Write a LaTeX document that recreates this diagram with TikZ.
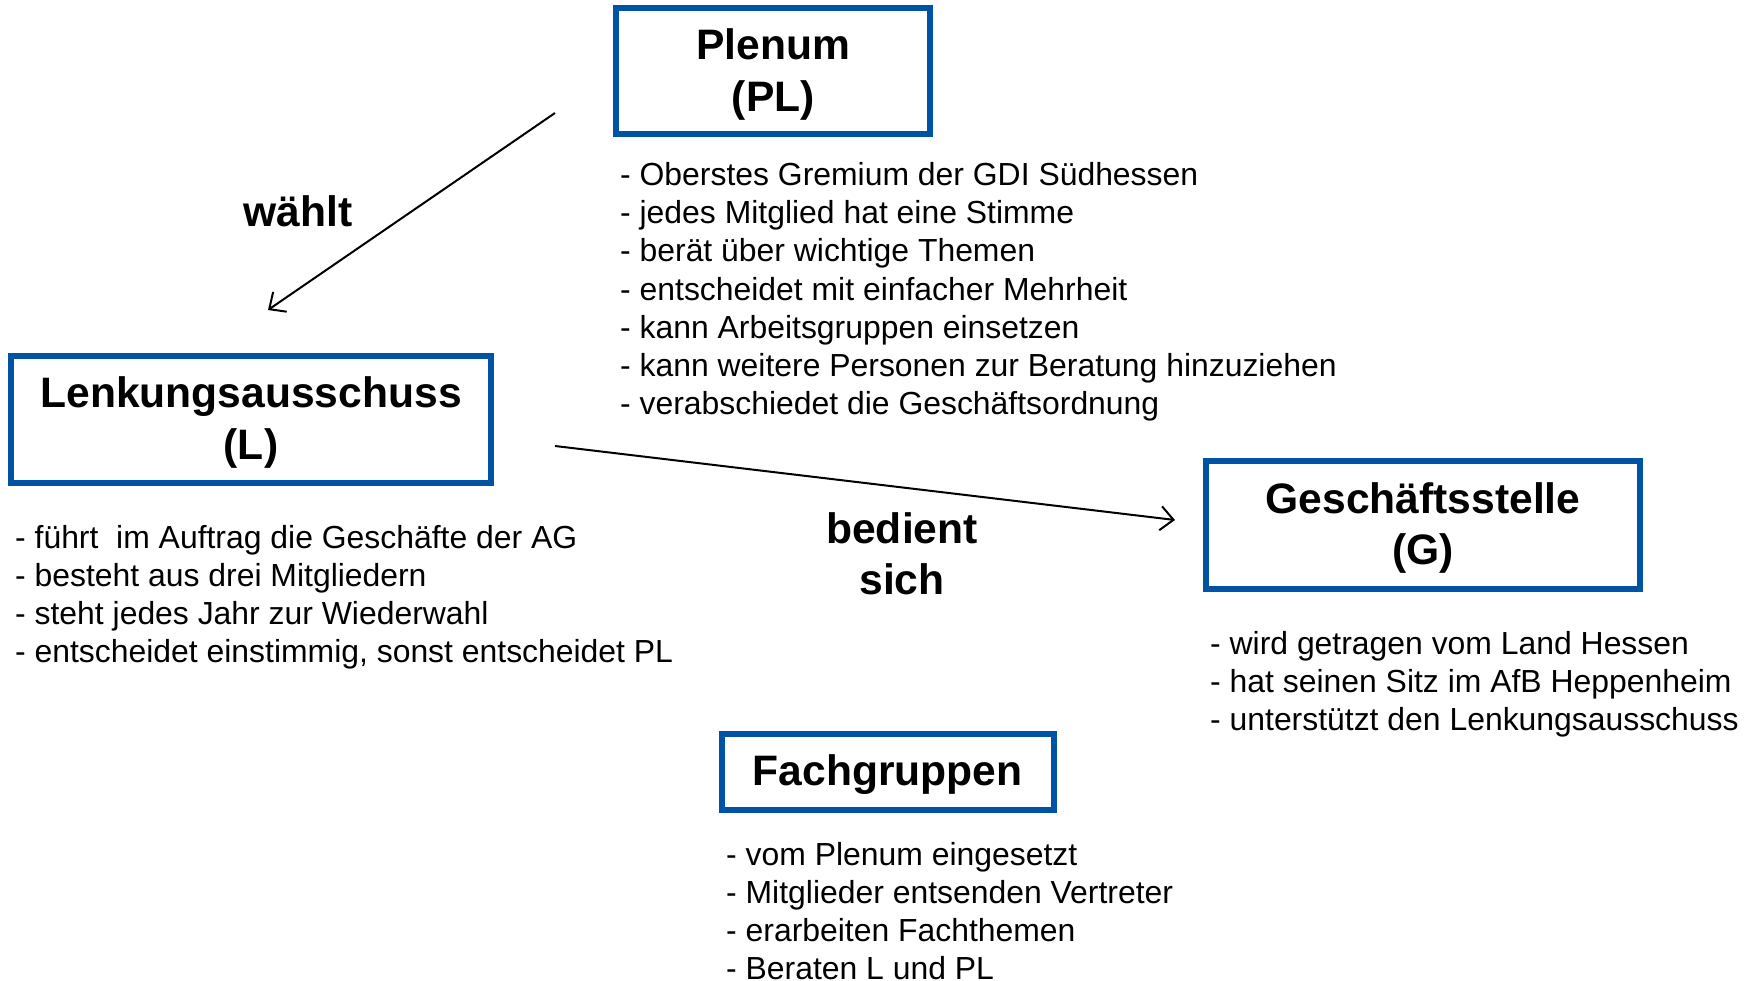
\documentclass[tikz,border=0pt]{standalone}
\usepackage{fontspec}
\setmainfont{Liberation Sans}
\usetikzlibrary{arrows.meta}
\definecolor{boxblue}{RGB}{0,82,164}
\newcommand\topstrut{\rule{0pt}{37pt}}
\begin{document}
\begin{tikzpicture}[x=1pt,y=-1pt,
  box/.style={draw=boxblue, line width=6pt, inner sep=0pt, align=center, font=\fontsize{42.6}{51.5}\selectfont\bfseries},
  item/.style={anchor=base west, inner sep=0pt, font=\fontsize{31.9}{38}\selectfont},
  lbl/.style={inner sep=0pt, align=center, font=\fontsize{42.6}{51.5}\selectfont\bfseries},
  arr/.style={line width=2pt, -{Straight Barb[length=13pt,width=24pt,line width=2pt]}}]
\useasboundingbox (0,0) rectangle (1754,981);

% boxes
\node[box, minimum width=314pt, minimum height=126pt] (pl) at (773.3,71.2) {\topstrut Plenum\\(PL)};
\node[box, minimum width=480pt, minimum height=127pt] (lk) at (251,419.5) {\topstrut Lenkungsausschuss\\(L)};
\node[box, minimum width=434pt, minimum height=128pt] (gs) at (1423,525) {\topstrut Geschäftsstelle\\(G)};
\node[box, minimum width=332pt, minimum height=76pt] (fg) at (887.5,772) {\topstrut Fachgruppen};

% lists
\foreach \t [count=\i from 0] in {%
  {- Oberstes Gremium der GDI Südhessen},
  {- jedes Mitglied hat eine Stimme},
  {- berät über wichtige Themen},
  {- entscheidet mit einfacher Mehrheit},
  {- kann Arbeitsgruppen einsetzen},
  {- kann weitere Personen zur Beratung hinzuziehen},
  {- verabschiedet die Geschäftsordnung}}
  \node[item] (pli\i) at (620,185.5+38.2*\i) {\t};

\foreach \t [count=\i from 0] in {%
  {- führt\ \ im Auftrag die Geschäfte der AG},
  {- besteht aus drei Mitgliedern},
  {- steht jedes Jahr zur Wiederwahl},
  {- entscheidet einstimmig, sonst entscheidet PL}}
  \node[item] (lki\i) at (15,548+38.3*\i) {\t};

\foreach \t [count=\i from 0] in {%
  {- wird getragen vom Land Hessen},
  {- hat seinen Sitz im AfB Heppenheim},
  {- unterstützt den Lenkungsausschuss}}
  \node[item] (gsi\i) at (1210,654+38.2*\i) {\t};

\foreach \t [count=\i from 0] in {%
  {- vom Plenum eingesetzt},
  {- Mitglieder entsenden Vertreter},
  {- erarbeiten Fachthemen},
  {- Beraten L und PL}}
  \node[item] (fgi\i) at (726,865+38.3*\i) {\t};

% connector labels
\node[lbl] (waehlt) at (298,211) {wählt};
\node[lbl] (bedient) at (902,554) {bedient\\sich};

% connectors
\coordinate (a1s) at (555,113);
\coordinate (a1e) at (268,310);
\coordinate (a2s) at (555,446);
\coordinate (a2e) at (1175,520);
\draw[arr] (a1s) -- (a1e);
\draw[arr] (a2s) -- (a2e);
\end{tikzpicture}
\end{document}
